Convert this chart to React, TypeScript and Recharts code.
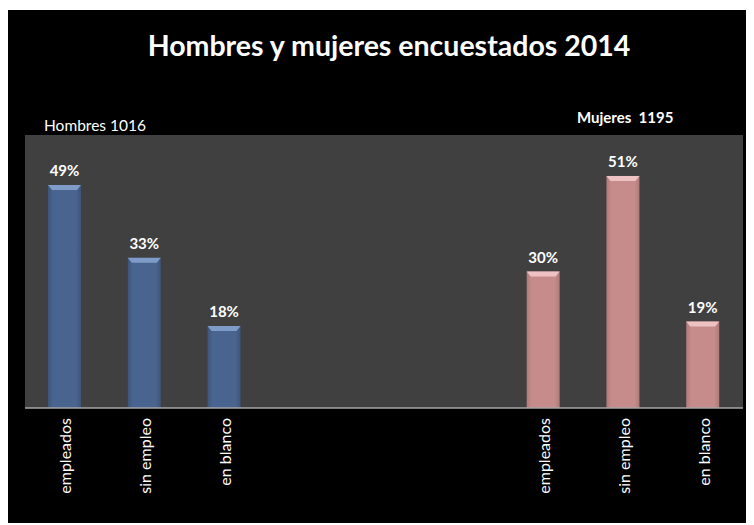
import React from "react";
import { BarChart, Bar, XAxis, YAxis, CartesianGrid, LabelList } from "recharts";

const categories = [
  "empleados",
  "sin empleo",
  "en blanco",
  "",
  "",
  "",
  "empleados",
  "sin empleo",
  "en blanco",
];
const hombres: (number | null)[] = [49, 33, 18, null, null, null, null, null, null];
const mujeres: (number | null)[] = [null, null, null, null, null, null, 30, 51, 19];

const title = "Hombres y mujeres encuestados 2014";
const hombresLabel = "Hombres 1016";
const mujeresLabel = "Mujeres\u00a0\u00a01195";

const data = categories.map((c, i) => ({
  id: i,
  cat: c,
  hombres: hombres[i],
  mujeres: mujeres[i],
}));

const FONT = "Lato, 'Open Sans', sans-serif";

const makeShape = (gid: string, bevel: string) => (props: any) => {
  const { x, y, width, height, value } = props;
  const v = Array.isArray(value) ? value[1] - value[0] : value;
  if (!height || height <= 0 || v == null || v === 0) return null;
  const b = 5;
  return (
    <g>
      <rect x={x} y={y} width={width} height={height} fill={`url(#${gid})`} />
      <polygon
        points={`${x},${y} ${x + width},${y} ${x + width - 4},${y + b} ${x + 4},${y + b}`}
        fill={bevel}
      />
    </g>
  );
};

const renderLabel = (props: any) => {
  const { x, y, width, value } = props;
  if (value == null || value === 0) return null;
  return (
    <text
      x={x + width / 2}
      y={y - 9}
      textAnchor="middle"
      fill="#ffffff"
      fontFamily={FONT}
      fontWeight="bold"
      fontSize={15}
    >
      {`${value}%`}
    </text>
  );
};

const Tick = (props: any) => {
  const { x, y, payload } = props;
  return (
    <text
      transform={`translate(${x},${y + 2}) rotate(-90)`}
      textAnchor="end"
      dominantBaseline="central"
      fill="#ffffff"
      fontFamily={FONT}
      fontSize={16}
    >
      {payload.value}
    </text>
  );
};

export default function App() {
  return (
    <div
      style={{
        position: "relative",
        top: 2,
        width: 746,
        height: 515,
        background: "#000000",
        fontFamily: FONT,
      }}
    >
      <div
        style={{
          position: "absolute",
          left: 0,
          width: 746,
          top: 17,
          textAlign: "center",
          color: "#ffffff",
          fontWeight: "bold",
          fontSize: 28.5,
          lineHeight: "36px",
          paddingLeft: 16,
          boxSizing: "border-box",
        }}
      >
        {title}
      </div>
      <div
        style={{
          position: "absolute",
          left: 36,
          top: 105,
          color: "#ffffff",
          fontSize: 15.5,
          lineHeight: "20px",
        }}
      >
        {hombresLabel}
      </div>
      <div
        style={{
          position: "absolute",
          left: 569,
          top: 97,
          color: "#ffffff",
          fontSize: 15,
          fontWeight: "bold",
          lineHeight: "20px",
        }}
      >
        {mujeresLabel}
      </div>
      <div style={{ position: "absolute", left: 0, top: 0 }}>
        <BarChart
          width={746}
          height={515}
          data={data}
          margin={{ top: 125, right: 11, left: 17, bottom: 7 }}
          barSize={33}
        >
          <defs>
            <linearGradient id="gBlue" x1="0" y1="0" x2="1" y2="0">
              <stop offset="0%" stopColor="#3f5577" />
              <stop offset="15%" stopColor="#4a6490" />
              <stop offset="85%" stopColor="#4a6490" />
              <stop offset="100%" stopColor="#3f5577" />
            </linearGradient>
            <linearGradient id="gPink" x1="0" y1="0" x2="1" y2="0">
              <stop offset="0%" stopColor="#b07a7a" />
              <stop offset="15%" stopColor="#c68c8c" />
              <stop offset="85%" stopColor="#c68c8c" />
              <stop offset="100%" stopColor="#b07a7a" />
            </linearGradient>
          </defs>
          <CartesianGrid
            fill="#404040"
            horizontal={false}
            vertical={false}
            stroke="none"
          />
          <XAxis
            dataKey="id"
            type="category"
            tickFormatter={(v: any) => categories[v]}
            tick={(p: any) => (
              <Tick {...p} payload={{ value: categories[p.payload.value] }} />
            )}
            tickLine={false}
            axisLine={{ stroke: "#a6a6a6", strokeWidth: 1.5 }}
            height={110}
            interval={0}
          />
          <YAxis hide domain={[0, 60]} />
          <Bar
            dataKey="hombres"
            stackId="g"
            isAnimationActive={false}
            shape={makeShape("gBlue", "#7f9cc8")}
          >
            <LabelList dataKey="hombres" content={renderLabel} />
          </Bar>
          <Bar
            dataKey="mujeres"
            stackId="g"
            isAnimationActive={false}
            shape={makeShape("gPink", "#eec2c2")}
          >
            <LabelList dataKey="mujeres" content={renderLabel} />
          </Bar>
        </BarChart>
      </div>
    </div>
  );
}
